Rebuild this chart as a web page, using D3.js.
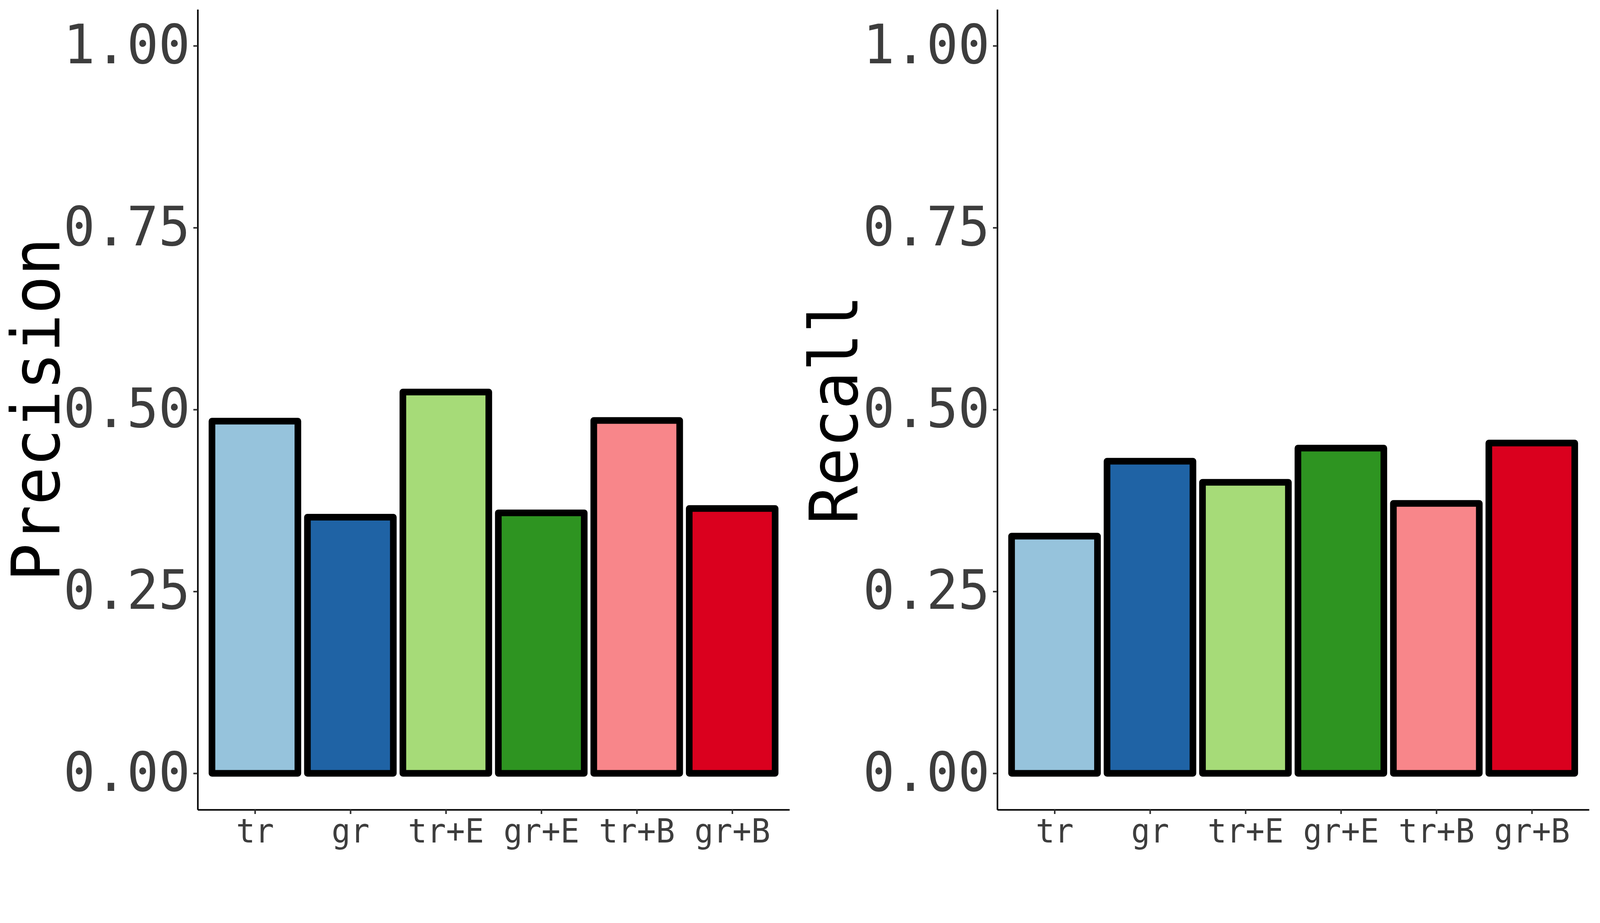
<!DOCTYPE html>
<html lang="en">
<head>
	<meta charset="UTF-8">
	<title>Precision and Recall</title>
	<script src="https://d3js.org/d3.v7.min.js"></script>
	<style>
		html, body { margin: 0; padding: 0; background: #fff; overflow: hidden; }
		svg { display: block; }
	</style>
</head>
<body>
	<script type="text/javascript">
		const methods = ["tr", "gr", "tr+E", "gr+E", "tr+B", "gr+B"];
		const colors = ["#96C3DC", "#1F63A5", "#A6DB78", "#2E9421", "#F8868A", "#DA001E"];
		const precision = [0.484, 0.352, 0.524, 0.358, 0.485, 0.364];
		const recall = [0.326, 0.429, 0.400, 0.447, 0.371, 0.454];
		const yTicks = [0, 0.25, 0.5, 0.75, 1];

		const width = 4133;
		const height = 2362;
		const panelTop = 24, panelBottom = 2072;
		const panelWidth = 1515;

		const svg = d3.select("body")
			.append("svg")
			.attr("width", width)
			.attr("height", height)
			.style("font-family", "'DejaVu Sans Mono', monospace");

		svg.append("rect")
			.attr("width", width)
			.attr("height", height)
			.attr("fill", "#fff");

		const yScale = d3.scaleLinear()
			.domain([-0.05, 1.05])
			.range([panelBottom, panelTop]);

		function drawPanel(x0, values, title, titleX) {
			const xScale = d3.scalePoint()
				.domain(methods)
				.range([x0, x0 + panelWidth])
				.padding(0.6);
			const barWidth = xScale.step() * 0.9;

			const g = svg.append("g");

			g.selectAll("rect.bar")
				.data(values)
				.enter()
				.append("rect")
				.attr("class", "bar")
				.attr("x", (d, i) => xScale(methods[i]) - barWidth / 2)
				.attr("y", (d) => yScale(d))
				.attr("width", barWidth)
				.attr("height", (d) => yScale(0) - yScale(d))
				.attr("fill", (d, i) => colors[i])
				.attr("stroke", "#000")
				.attr("stroke-width", 17)
				.attr("stroke-linejoin", "round");

			const yAxis = g.append("g")
				.attr("transform", `translate(${x0},0)`)
				.call(d3.axisLeft(yScale)
					.tickValues(yTicks)
					.tickFormat(d3.format(".2f"))
					.tickSize(11)
					.tickSizeOuter(0)
					.tickPadding(8));

			const xAxis = g.append("g")
				.attr("transform", `translate(0,${panelBottom})`)
				.call(d3.axisBottom(xScale)
					.tickSize(11)
					.tickSizeOuter(0)
					.tickPadding(13));

			[yAxis, xAxis].forEach((a) => {
				a.select(".domain").attr("stroke", "#000").attr("stroke-width", 4);
				a.selectAll(".tick line").attr("stroke", "#333").attr("stroke-width", 4);
				a.selectAll(".tick text")
					.attr("fill", "#3d3d3d")
					.style("font-family", "'DejaVu Sans Mono', monospace");
			});
			// the original font is a little narrower than DejaVu Sans Mono
			yAxis.selectAll(".tick text")
				.attr("font-size", "139px")
				.attr("x", -19 / 0.97)
				.attr("transform", "scale(0.97,1)");
			xAxis.selectAll(".tick text")
				.attr("font-size", "85px")
				.attr("transform", "scale(0.95,1)");

			g.append("text")
				.attr("transform", `translate(${titleX},${(panelTop + panelBottom) / 2}) rotate(-90) scale(0.95,1)`)
				.attr("text-anchor", "middle")
				.attr("font-size", "171px")
				.attr("fill", "#000")
				.text(title);
		}

		drawPanel(506, precision, "Precision", 152);
		drawPanel(2553, recall, "Recall", 2195);
	</script>
</body>
</html>
